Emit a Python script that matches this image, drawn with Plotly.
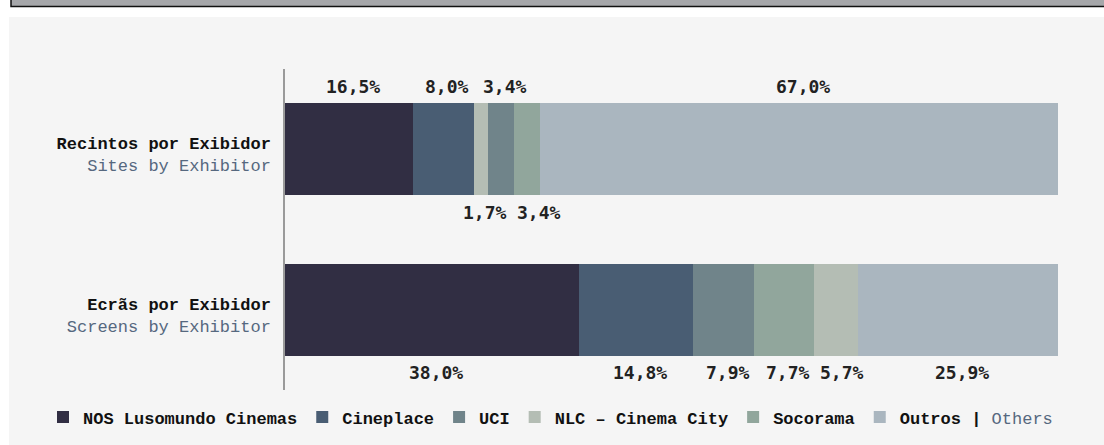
import plotly.graph_objects as go

# ---------------- data ----------------
row_labels = ["Recintos por Exibidor", "Ecrãs por Exibidor"]
row_sublabels = ["Sites by Exhibitor", "Screens by Exhibitor"]
exhibitors = ["NOS Lusomundo Cinemas", "Cineplace", "UCI", "NLC – Cinema City", "Socorama", "Outros"]
sites_pct = [16.5, 8.0, 3.4, 1.7, 3.4, 67.0]      # per exhibitor (same order as exhibitors)
screens_pct = [38.0, 14.8, 7.9, 5.7, 7.7, 25.9]   # per exhibitor

# stacking order used in each bar (left to right)
sites_order = ["NOS Lusomundo Cinemas", "Cineplace", "NLC – Cinema City", "UCI", "Socorama", "Outros"]
screens_order = ["NOS Lusomundo Cinemas", "Cineplace", "UCI", "Socorama", "NLC – Cinema City", "Outros"]

# ---------------- style ----------------
colors = {
    "NOS Lusomundo Cinemas": "#312e43",
    "Cineplace": "#495d73",
    "UCI": "#70848a",
    "NLC – Cinema City": "#b4bdb4",
    "Socorama": "#91a69c",
    "Outros": "#aab6bf",
}
SLATE = "#56687f"
# label placement for the sites bar (stack order), screens all below
sites_label_side = ["above", "above", "below", "above", "below", "above"]

W, H = 1104, 445
L, R, T, B = 285, 1058, 69, 390
LABEL_W = 54  # approx pixel width of a "xx,x%" label


def px_x(px):
    return (px - L) / (R - L)


def px_y(py):
    return (B - py) / (B - T)


def fmt(v):
    return f"{v:.1f}".replace(".", ",") + "%"


fig = go.Figure()

rows = [
    (row_labels[0], sites_pct, sites_order, sites_label_side, False),
    (row_labels[1], screens_pct, screens_order, ["below"] * 6, True),
]

annotations = []
scale = (R - L) / 100.0
for cat, vals, order, sides, show in rows:
    cum = 0.0
    last_right = {"above": -1e9, "below": -1e9}
    for name, side in zip(order, sides):
        v = vals[exhibitors.index(name)]
        legend_name = name
        if name == "Outros":
            legend_name = f"Outros | <span style='color:{SLATE};font-weight:normal'>Others</span>"
        fig.add_trace(go.Bar(
            y=[cat], x=[v], orientation="h", name=legend_name,
            marker=dict(color=colors[name], line=dict(width=0)),
            showlegend=show, legendrank=exhibitors.index(name) + 1,
            hoverinfo="skip",
        ))
        # avoid overlap with the previous label on the same side
        centre_px = (cum + v / 2) * scale + 4
        shift = 4
        if centre_px - LABEL_W / 2 < last_right[side]:
            shift += last_right[side] - (centre_px - LABEL_W / 2)
            centre_px = last_right[side] + LABEL_W / 2
        last_right[side] = centre_px + LABEL_W / 2
        annotations.append(dict(
            x=cum + v / 2, y=cat, xref="x", yref="y",
            text=fmt(v), showarrow=False, xshift=shift,
            yshift=63 if side == "above" else -63, yanchor="middle",
            font=dict(family="DejaVu Sans Mono", size=18, color="#222222", weight="bold"),
        ))
        cum += v

ticktext = [
    f"<b>{a}</b><br><span style='color:{SLATE}'>{b}</span>"
    for a, b in zip(row_labels, row_sublabels)
]

shapes = [
    # light panel
    dict(type="rect", xref="paper", yref="paper", layer="below",
         x0=px_x(9), x1=px_x(1110), y0=px_y(450), y1=px_y(17),
         fillcolor="#f5f5f5", line=dict(width=0)),
    # top grey strip
    dict(type="rect", xref="paper", yref="paper", layer="below",
         x0=px_x(11), x1=px_x(1120), y0=px_y(6.5), y1=px_y(-10),
         fillcolor="#a6a7aa", line=dict(color="#111111", width=1.5)),
]

fig.update_layout(
    width=W, height=H,
    margin=dict(l=L, r=W - R, t=T, b=H - B, pad=0, autoexpand=False),
    paper_bgcolor="#ffffff",
    plot_bgcolor="rgba(0,0,0,0)",
    barmode="stack",
    bargap=0.425,
    shapes=shapes,
    annotations=annotations,
    xaxis=dict(range=[0, 100], visible=False, fixedrange=True),
    yaxis=dict(
        autorange="reversed", tickmode="array", tickvals=row_labels, ticktext=ticktext,
        showline=True, linecolor="#9a9a9a", linewidth=1.5, ticks="",
        showgrid=False, zeroline=False, ticklabelstandoff=9, ticklabelshift=-5,
        tickfont=dict(family="Liberation Mono", size=17, color="#111111"),
        fixedrange=True, automargin=False,
    ),
    legend=dict(
        orientation="h", x=px_x(43), xanchor="left", y=px_y(417.5), yanchor="middle",
        font=dict(family="Liberation Mono", size=17, color="#111111", weight="bold"),
        bgcolor="rgba(0,0,0,0)", traceorder="normal", itemclick=False, itemdoubleclick=False,
    ),
    showlegend=True,
)

fig.write_html("out.html", config={"displayModeBar": False},
               post_script="document.body.style.margin='0';")
